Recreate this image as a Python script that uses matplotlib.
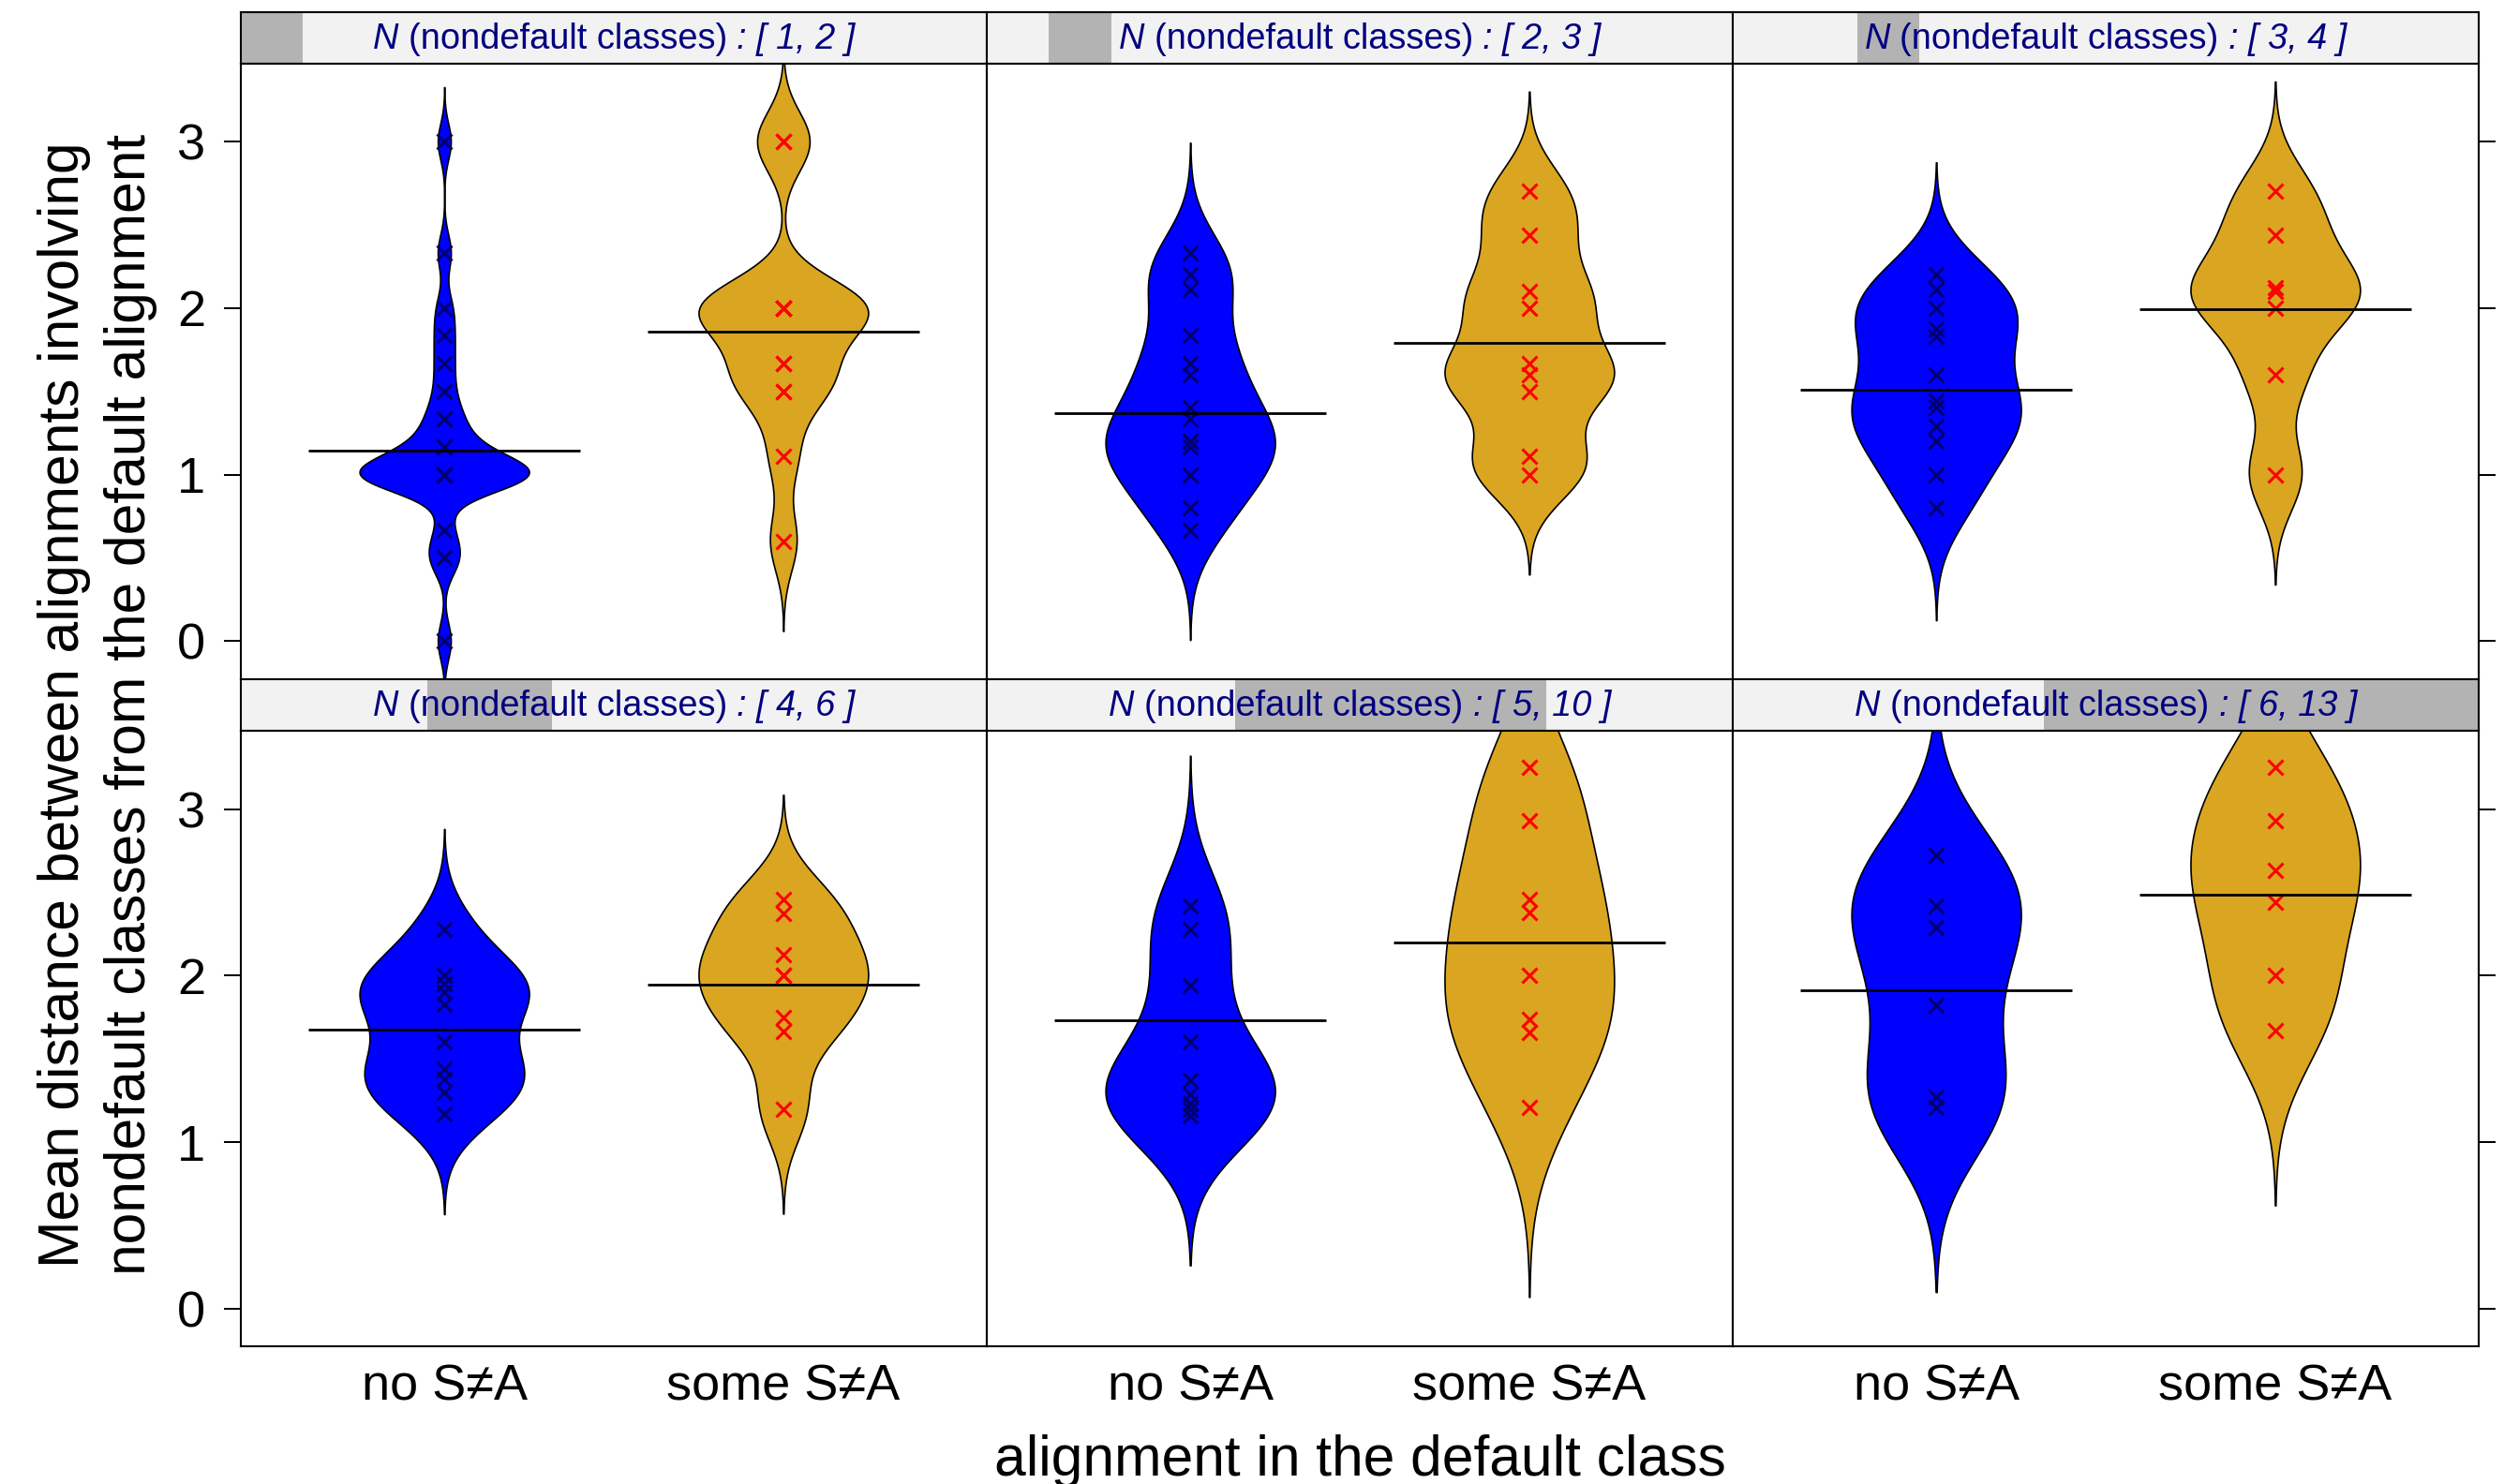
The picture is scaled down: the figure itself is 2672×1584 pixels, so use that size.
import matplotlib
matplotlib.use("Agg")
import matplotlib.pyplot as plt
import numpy as np

plt.rcParams["font.family"] = ["Liberation Sans", "DejaVu Sans"]

# ---------------------------------------------------------------------------
# Data
# ---------------------------------------------------------------------------
groups = ["no S≠A", "some S≠A"]
shingle_lo = [1, 2, 3, 4, 5, 6]
shingle_hi = [2, 3, 4, 6, 10, 13]

# mean distance per language, one list per panel
no_sa = [
    [0.0, 0.5, 0.5, 0.667, 1.0, 1.0, 1.0, 1.0, 1.0, 1.0, 1.0, 1.0, 1.0, 1.0, 1.0, 1.0,
     1.167, 1.167, 1.167, 1.333, 1.333, 1.5, 1.667, 1.833, 2.0, 2.333, 3.0],
    [0.667, 0.8, 1.0, 1.0, 1.167, 1.2, 1.2, 1.333, 1.4, 1.6, 1.667, 1.833, 2.111, 2.2, 2.333],
    [0.8, 1.0, 1.2, 1.29, 1.4, 1.44, 1.6, 1.83, 1.875, 2.0, 2.11, 2.2],
    [1.167, 1.3, 1.38, 1.44, 1.6, 1.83, 1.9, 1.95, 2.0, 2.28],
    [1.16, 1.2, 1.23, 1.29, 1.37, 1.6, 1.94, 2.28, 2.42],
    [1.21, 1.27, 1.82, 2.29, 2.42, 2.72],
]
some_sa = [
    [0.6, 1.11, 1.5, 1.5, 1.667, 1.667, 2.0, 2.0, 2.0, 2.0, 2.0, 2.0, 3.0, 3.0],
    [1.0, 1.11, 1.5, 1.6, 1.667, 2.0, 2.1, 2.44, 2.7],
    [1.0, 1.6, 2.0, 2.1, 2.125, 2.44, 2.7],
    [1.2, 1.667, 1.75, 2.0, 2.0, 2.125, 2.375, 2.455],
    [1.21, 1.66, 1.74, 2.0, 2.38, 2.46, 2.93, 3.25],
    [1.67, 2.0, 2.44, 2.63, 2.93, 3.25],
]
# kernel bandwidths of the density outlines
bw_no = [0.109, 0.22, 0.225, 0.2, 0.3, 0.37]
bw_some = [0.18, 0.2, 0.22, 0.21, 0.38, 0.35]
# horizontal lines (group means)
mean_no = [1.144, 1.367, 1.508, 1.673, 1.734, 1.914]
mean_some = [1.861, 1.792, 1.996, 1.946, 2.198, 2.485]

y_ticks = [0, 1, 2, 3]
y_limits = (-0.226, 3.47)

# ---------------------------------------------------------------------------
# Layout (pixels of the 2672 x 1584 canvas)
# ---------------------------------------------------------------------------
W, H, DPI = 2672, 1584, 200
col_edges = [257, 1053, 1849, 2645]
strip_top = [13, 725]
panel_top = [67.5, 780]
panel_bot = [724.5, 1437]

fill_colors = ["#0000FF", "#DAA520"]
point_colors = ["#000070", "#FF0000"]
text_blue = "#000080"

fig = plt.figure(figsize=(W / DPI, H / DPI), dpi=DPI)
renderer = fig.canvas.get_renderer()


def fx(px):
    return px / W


def fy(py):
    return 1 - py / H


def draw_violin(ax, pos, vals, bw, color):
    v = np.asarray(vals, dtype=float)
    grid = np.linspace(v.min() - 3 * bw, v.max() + 3 * bw, 512)
    dens = np.exp(-0.5 * ((grid[:, None] - v[None, :]) / bw) ** 2).sum(axis=1)
    half = dens / dens.max() * 0.25
    ax.fill_betweenx(grid, pos - half, pos + half, facecolor=color,
                     edgecolor="black", linewidth=0.6, zorder=2)


def strip_label(ax, lo, hi):
    size = 13.7
    parts = [("N", "italic"), ("(nondefault classes)", "normal"),
             (f": [ {lo}, {hi} ]", "italic")]
    probe_a = ax.text(0, 0, "NN", fontsize=size)
    probe_b = ax.text(0, 0, "N N", fontsize=size)
    gap = (probe_b.get_window_extent(renderer).width
           - probe_a.get_window_extent(renderer).width)
    probe_a.remove()
    probe_b.remove()
    texts = [ax.text(0, 0.47, s, style=st, fontsize=size, color=text_blue,
                     ha="left", va="center", transform=ax.transAxes)
             for s, st in parts]
    widths = [t.get_window_extent(renderer).width for t in texts]
    ax_w = ax.get_window_extent(renderer).width
    total = sum(widths) + gap * (len(widths) - 1)
    x = 0.5 - total / 2 / ax_w
    for t, w in zip(texts, widths):
        t.set_x(x)
        x += (w + gap) / ax_w


for i in range(6):
    row, col = divmod(i, 3)
    x0, x1 = fx(col_edges[col]), fx(col_edges[col + 1])

    # strip with shingle level indicator
    sax = fig.add_axes([x0, fy(panel_top[row]), x1 - x0,
                        fy(strip_top[row]) - fy(panel_top[row])])
    sax.set_facecolor("#F2F2F2")
    sax.set_xlim(min(shingle_lo), max(shingle_hi))
    sax.set_ylim(0, 1)
    sax.axvspan(shingle_lo[i], shingle_hi[i], color="#B3B3B3", lw=0)
    sax.set_xticks([])
    sax.set_yticks([])
    for sp in sax.spines.values():
        sp.set_linewidth(0.75)
    strip_label(sax, shingle_lo[i], shingle_hi[i])

    # panel
    ax = fig.add_axes([x0, fy(panel_bot[row]), x1 - x0,
                       fy(panel_top[row]) - fy(panel_bot[row])])
    ax.set_xlim(0.4, 2.6)
    ax.set_ylim(*y_limits)
    for sp in ax.spines.values():
        sp.set_linewidth(0.75)

    for g, (vals, bw, mu) in enumerate([(no_sa[i], bw_no[i], mean_no[i]),
                                        (some_sa[i], bw_some[i], mean_some[i])]):
        pos = g + 1
        draw_violin(ax, pos, vals, bw, fill_colors[g])
        ax.plot(np.full(len(vals), pos), vals, linestyle="none", marker="x",
                markersize=5.8, markeredgewidth=1.1, color=point_colors[g], zorder=3)
        ax.hlines(mu, pos - 0.4, pos + 0.4, color="black", linewidth=1.0, zorder=4)

    ax.set_yticks(y_ticks)
    ax.tick_params(axis="y", length=6.5, width=0.72, pad=7.2, labelsize=19.5,
                   left=(col == 0), labelleft=(col == 0),
                   right=(col == 2), labelright=False)
    if row == 1:
        ax.set_xticks([1, 2], groups)
        ax.tick_params(axis="x", length=0, pad=6.5, labelsize=19.5)
    else:
        ax.set_xticks([])

# axis titles
fig.text(fx(84), fy(752), "Mean distance between alignments involving",
         rotation=90, rotation_mode="anchor", ha="center", va="baseline",
         fontsize=21.8)
fig.text(fx(155), fy(752), "nondefault classes from the default alignment",
         rotation=90, rotation_mode="anchor", ha="center", va="baseline",
         fontsize=21.8)
fig.text(fx(1451), fy(1575), "alignment in the default class",
         ha="center", va="baseline", fontsize=21.8)

fig.savefig("out.png", dpi=DPI)
